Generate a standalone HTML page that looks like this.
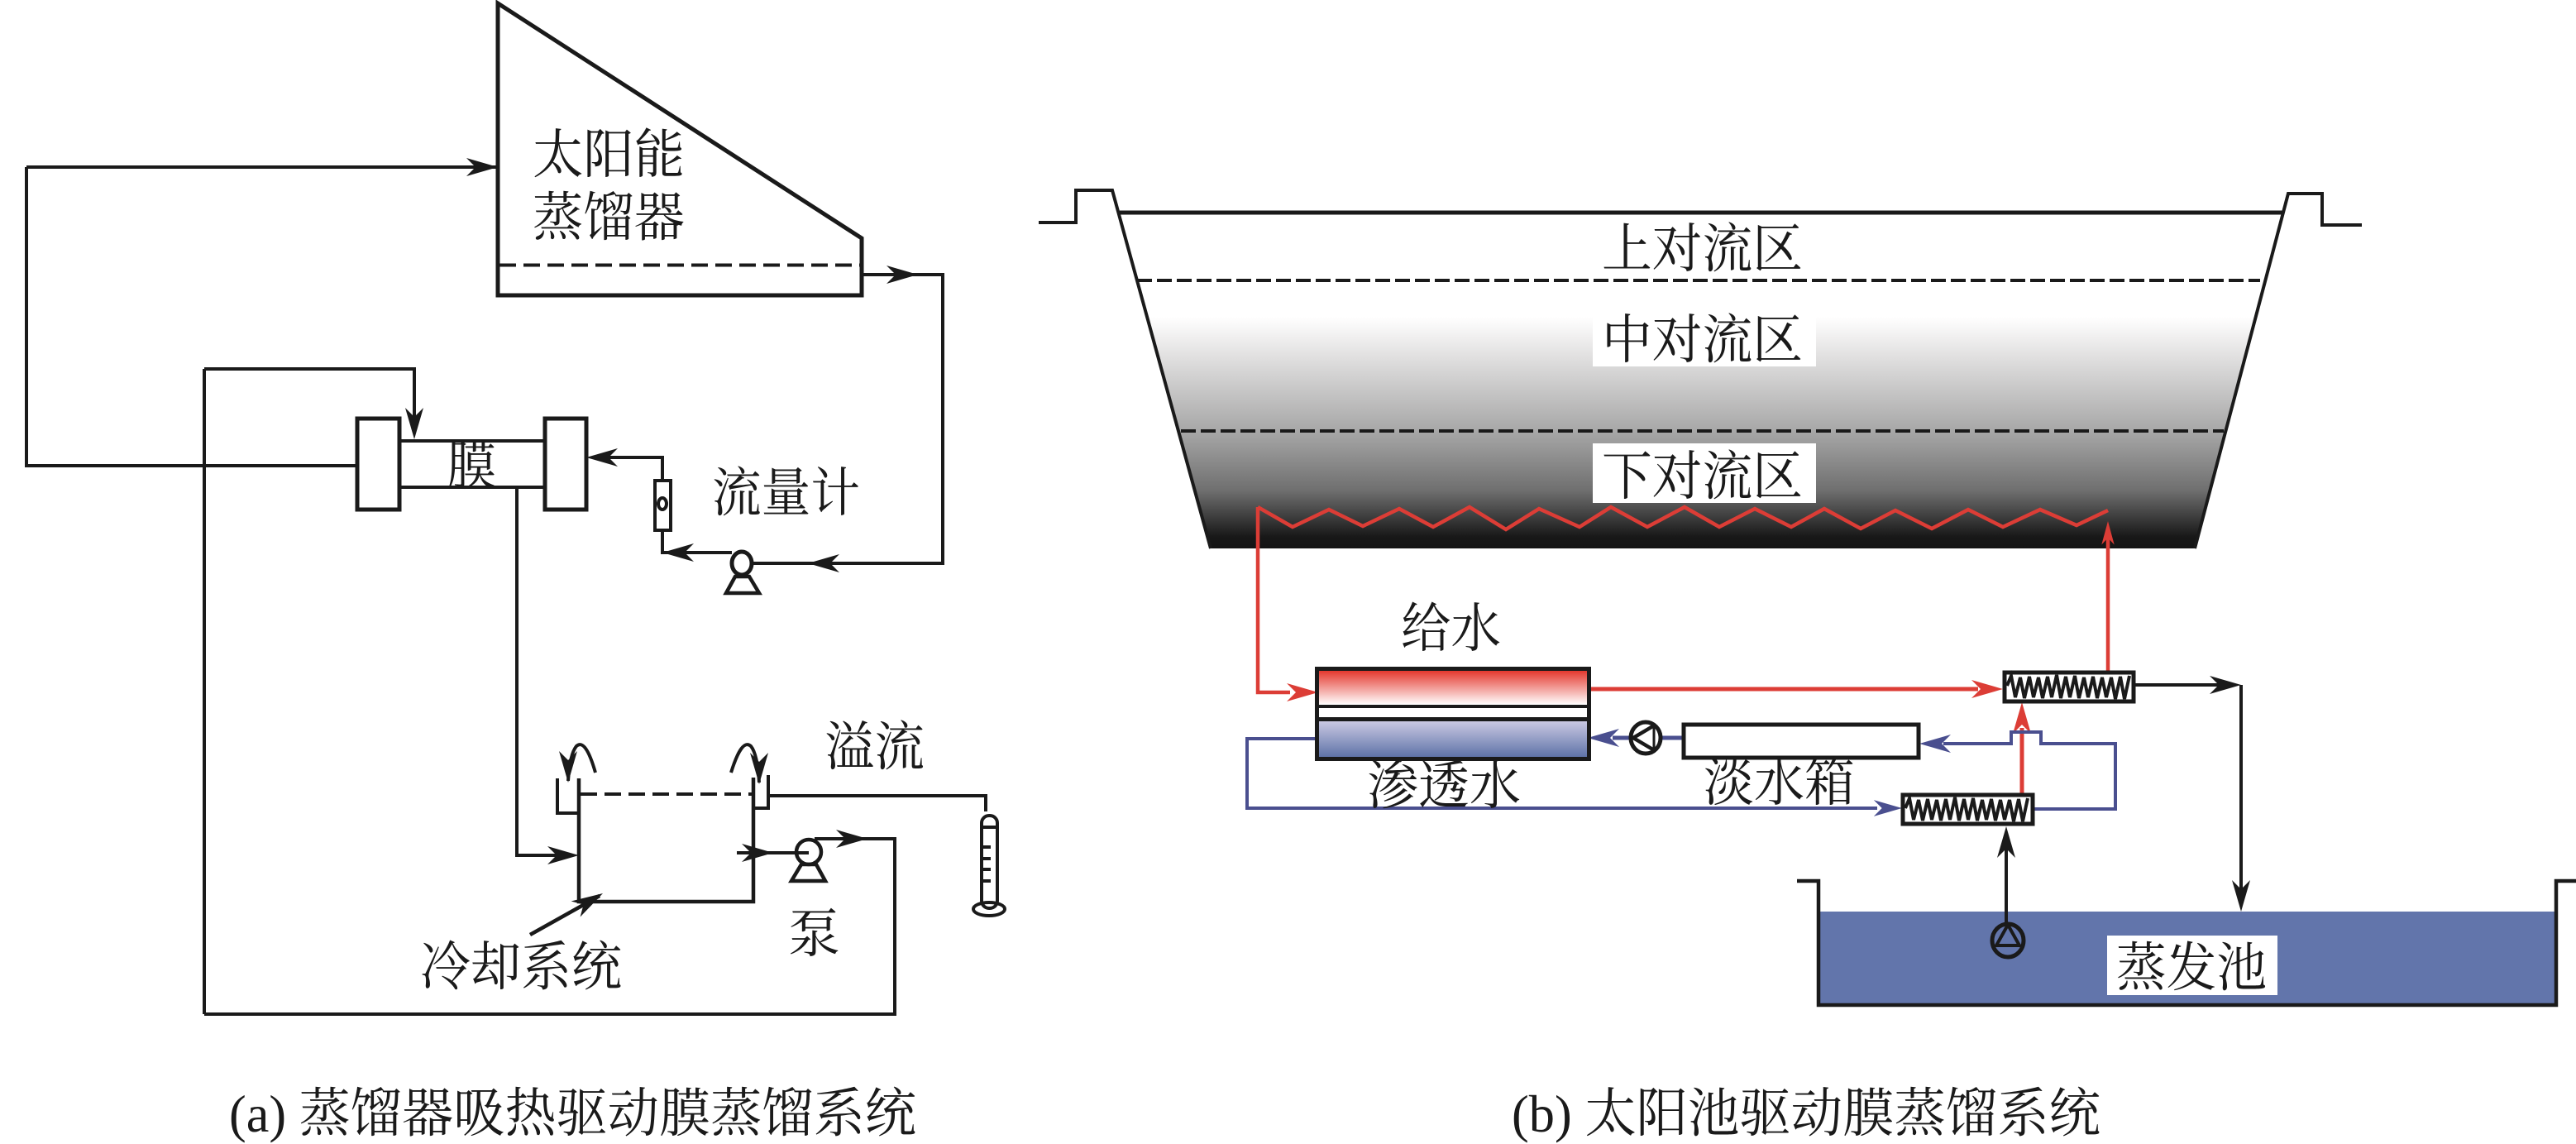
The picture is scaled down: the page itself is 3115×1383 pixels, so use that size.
<!DOCTYPE html>
<html lang="zh">
<head>
<meta charset="utf-8">
<title>膜蒸馏系统</title>
<style>
html,body{margin:0;padding:0;background:#fff;width:3115px;height:1383px;overflow:hidden}
svg{display:block}
text{font-family:"Liberation Serif","Noto Serif CJK SC",serif;font-size:64px;fill:#1a1a1a}
</style>
</head>
<body>
<svg width="3115" height="1383" viewBox="0 0 3115 1383" xmlns="http://www.w3.org/2000/svg">
<defs>
<linearGradient id="pond" x1="0" y1="383" x2="0" y2="663" gradientUnits="userSpaceOnUse">
<stop offset="0" stop-color="#ffffff"/><stop offset=".1" stop-color="#eeeded"/><stop offset=".5" stop-color="#a6a6a6"/><stop offset=".75" stop-color="#6f6f6f"/><stop offset=".95" stop-color="#181818"/><stop offset="1" stop-color="#141414"/>
</linearGradient>
<linearGradient id="hot" x1="0" y1="0" x2="0" y2="1"><stop offset="0" stop-color="#e4382e"/><stop offset="1" stop-color="#fff"/></linearGradient>
<linearGradient id="cold" x1="0" y1="0" x2="0" y2="1"><stop offset="0" stop-color="#c9c8e2"/><stop offset="1" stop-color="#5f73a8"/></linearGradient>
<path id="a" d="M0,0 L-38,-11 L-27,0 L-38,11 Z"/>
<polyline id="z" fill="none" stroke="#1a1a1a" stroke-width="4" points="0,12 5,0 10,26 16,2 21,27 27,1 32,26 38,2 43,27 49,1 54,26 60,-1 65,27 71,1 76,26 82,0 87,27 93,2 98,26 104,1 109,27 115,2 120,26 126,2 131,28 137,1 142,28 148,0"/>
</defs>

<!-- (a) -->
<g fill="none" stroke="#1a1a1a" stroke-width="4">
<polygon points="602,4 1042,288 1042,357 602,357" stroke-width="5"/>
<polyline points="32,202 600,202"/>
<polyline points="32,202 32,563 430,563"/>
<line x1="604" y1="320.5" x2="1040" y2="320.5" stroke-width="4" stroke-dasharray="20 9"/>
<polyline points="1042,332 1140,332 1140,681 910,681"/>
<polyline points="247,446 501,446 501,515"/>
<line x1="247" y1="446" x2="247" y2="1226"/>
<polyline points="247,1226 1082,1226 1082,1014 985,1014"/>
<rect x="432" y="506" width="51" height="110" fill="#fff" stroke-width="5"/>
<rect x="659" y="506" width="50" height="110" fill="#fff" stroke-width="5"/>
<line x1="483" y1="533" x2="657" y2="533"/><line x1="483" y1="589" x2="657" y2="589"/>
<polyline points="625,589 625,1034 690,1034"/>
<polyline points="885,668 801,668 801,641"/>
<rect x="792" y="581" width="19" height="60" fill="#fff"/>
<ellipse cx="801" cy="609" rx="5" ry="7"/>
<polyline points="801,581 801,553 720,553"/>
<ellipse cx="897" cy="681" rx="12" ry="14" fill="#fff" stroke-width="5"/>
<polygon points="889,697 906,697 918,717 878,717" stroke-width="4.5"/>
<polyline points="700,941 700,1090 911,1090 911,940" stroke-width="4.5"/>
<line x1="702" y1="960" x2="909" y2="960" stroke-width="4" stroke-dasharray="20 9"/>
<polyline points="674,941 674,983 700,983"/>
<polyline points="929,937 929,977 911,977"/>
<polyline points="929,962 1192,962 1192,981"/>
<rect x="1187" y="986" width="19" height="112" rx="9" fill="#fff" stroke-width="4"/>
<line x1="1187" y1="1000" x2="1206" y2="1000"/>
<ellipse cx="1196" cy="1099" rx="19" ry="8" stroke-width="4"/>
<path d="M1188,1024H1198M1188,1038H1198M1188,1051H1198M1188,1065H1198"/>
<path d="M720,934 Q708,892 697,902 Q689,912 687,944"/>
<path d="M884,934 Q897,892 908,902 Q916,912 918,946"/>
<line x1="891" y1="1031" x2="977" y2="1031"/>
<ellipse cx="978" cy="1030" rx="15" ry="15" fill="#fff" stroke-width="4.5"/>
<line x1="935" y1="1031" x2="978" y2="1031"/>
<polygon points="969,1045 987,1045 998,1065 957,1065" stroke-width="4.5"/>
<line x1="641" y1="1130" x2="725" y2="1083" stroke-width="4.5"/>
</g>
<g fill="#1a1a1a">
<use href="#a" transform="translate(602,202)"/>
<use href="#a" transform="translate(1110,332)"/>
<use href="#a" transform="translate(977,681) rotate(180)"/>
<use href="#a" transform="translate(801,668) rotate(180)"/>
<use href="#a" transform="translate(709,553) rotate(180)"/>
<use href="#a" transform="translate(501,531) rotate(90)"/>
<use href="#a" transform="translate(700,1034)"/>
<use href="#a" transform="translate(687,946) rotate(90)"/>
<use href="#a" transform="translate(918,948) rotate(90)"/>
<use href="#a" transform="translate(935,1031)"/>
<use href="#a" transform="translate(1049,1014)"/>
<use href="#a" transform="translate(729,1080) rotate(-30)"/>
</g>
<text x="644" y="209" textLength="184" lengthAdjust="spacingAndGlyphs">太阳能</text>
<text x="644" y="285" textLength="184" lengthAdjust="spacingAndGlyphs">蒸馏器</text>
<text x="540" y="586" textLength="60" lengthAdjust="spacingAndGlyphs">膜</text>
<text x="861" y="618" textLength="179" lengthAdjust="spacingAndGlyphs">流量计</text>
<text x="997" y="925" textLength="121" lengthAdjust="spacingAndGlyphs">溢流</text>
<text x="953" y="1151" textLength="63" lengthAdjust="spacingAndGlyphs">泵</text>
<text x="508" y="1191" textLength="244" lengthAdjust="spacingAndGlyphs">冷却系统</text>
<text x="277" y="1368" textLength="831" lengthAdjust="spacingAndGlyphs">(a) 蒸馏器吸热驱动膜蒸馏系统</text>

<!-- (b) pond -->
<polygon points="1352,257 2762,257 2654,663 1464,663" fill="url(#pond)"/>
<g fill="none" stroke="#1a1a1a" stroke-width="4">
<polyline points="1256,269 1301,269 1301,230 1345,230 1464,663"/>
<polyline points="2654,663 2767,234 2808,234 2808,272 2856,272"/>
<line x1="1354" y1="257" x2="2762" y2="257" stroke-width="5"/>
<line x1="1375" y1="339" x2="2733" y2="339" stroke-width="4" stroke-dasharray="18 6"/>
<line x1="1428" y1="521" x2="2689" y2="521" stroke-width="4" stroke-dasharray="18 6"/>
</g>
<rect x="1926" y="376" width="270" height="67" fill="#fff"/>
<rect x="1926" y="536" width="270" height="72" fill="#fff"/>
<text x="1937" y="323" textLength="243" lengthAdjust="spacingAndGlyphs">上对流区</text>
<text x="1937" y="433" textLength="243" lengthAdjust="spacingAndGlyphs">中对流区</text>
<text x="1937" y="598" textLength="243" lengthAdjust="spacingAndGlyphs">下对流区</text>

<!-- red -->
<g fill="none" stroke="#dc3d36" stroke-width="4.5">
<polyline points="1521,613 1563,637 1607,616 1648,636 1692,615 1733,637 1777,613 1821,640 1861,615 1910,637 1948,613 1992,637 2037,613 2079,637 2122,615 2166,637 2206,615 2250,639 2292,617 2336,639 2380,616 2422,637 2467,616 2511,635 2549,617"/>
<polyline points="1521,613 1521,837 1560,837"/>
<line x1="2549" y1="640" x2="2549" y2="811"/>
<line x1="1924" y1="833" x2="2392" y2="833" stroke-width="5"/>
<line x1="2445" y1="959" x2="2445" y2="880" stroke-width="5"/>
</g>
<g fill="#dc3d36">
<use href="#a" transform="translate(2549,630) rotate(-90) scale(.75,.7)"/>
<use href="#a" transform="translate(1594,837)"/>
<use href="#a" transform="translate(2422,833)"/>
<use href="#a" transform="translate(2445,849) rotate(-90)"/>
</g>

<!-- blue -->
<g fill="none" stroke="#4a4f8f" stroke-width="4">
<polyline points="1594,893 1508,893 1508,977 2270,977"/>
<polyline points="2460,978 2558,978 2558,899 2468,899 2468,885 2432,885 2432,899 2350,899"/>
<line x1="2034" y1="892" x2="1950" y2="892" stroke-width="5"/>
</g>
<g fill="#4a4f8f">
<use href="#a" transform="translate(2300,977) scale(.9)"/>
<use href="#a" transform="translate(2321,899) rotate(180)"/>
<use href="#a" transform="translate(1920,892) rotate(180)"/>
</g>

<!-- module -->
<rect x="1590" y="806" width="334" height="114" fill="#1a1a1a"/>
<rect x="1595" y="811" width="324" height="41" fill="url(#hot)"/>
<rect x="1595" y="856" width="324" height="11" fill="#fff"/>
<rect x="1595" y="872" width="324" height="43" fill="url(#cold)"/>

<ellipse cx="1990" cy="892" rx="18" ry="19" fill="#fff" stroke="#1a1a1a" stroke-width="5"/>
<polyline points="2002,876 1975,892 2002,908" fill="none" stroke="#1a1a1a" stroke-width="4.5"/>
<line x1="2000" y1="876" x2="2000" y2="908" stroke="#1a1a1a" stroke-width="3"/>

<rect x="2036" y="876" width="284" height="40" fill="#fff" stroke="#1a1a1a" stroke-width="5"/>

<text x="1694" y="782" textLength="121" lengthAdjust="spacingAndGlyphs">给水</text>
<text x="1653" y="972" textLength="186" lengthAdjust="spacingAndGlyphs">渗透水</text>
<text x="2060" y="968" textLength="183" lengthAdjust="spacingAndGlyphs">淡水箱</text>

<!-- heat exchangers -->
<rect x="2424" y="813" width="156" height="35" fill="#fff" stroke="#1a1a1a" stroke-width="5"/>
<use href="#z" transform="translate(2427,817)"/>
<rect x="2301" y="961" width="157" height="35" fill="#fff" stroke="#1a1a1a" stroke-width="5"/>
<use href="#z" transform="translate(2304,965)"/>

<!-- evaporation pond -->
<rect x="2199" y="1102" width="892" height="111" fill="#6275ab"/>
<g fill="none" stroke="#1a1a1a" stroke-width="4">
<polyline points="2173,1065 2199,1065 2199,1215 3091,1215 3091,1065 3115,1065" stroke-width="4.5"/>
<polyline points="2582,828 2690,828"/>
<polyline points="2710,828 2710,1075"/>
<line x1="2426" y1="1116" x2="2426" y2="1020"/>
<ellipse cx="2428" cy="1137" rx="19" ry="20" stroke-width="5"/>
<polygon points="2428,1118 2414,1143 2442,1143" stroke-width="4"/>
</g>
<g fill="#1a1a1a">
<use href="#a" transform="translate(2710,828)"/>
<use href="#a" transform="translate(2710,1102) rotate(90)"/>
<use href="#a" transform="translate(2426,999) rotate(-90)"/>
</g>
<rect x="2548" y="1131" width="206" height="72" fill="#fff"/>
<text x="2559" y="1192" textLength="182" lengthAdjust="spacingAndGlyphs">蒸发池</text>

<text x="1828" y="1368" textLength="712" lengthAdjust="spacingAndGlyphs">(b) 太阳池驱动膜蒸馏系统</text>
</svg>
</body>
</html>
